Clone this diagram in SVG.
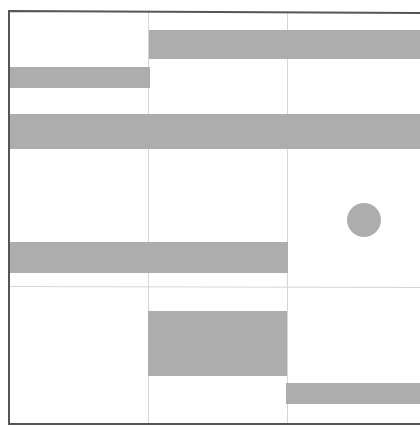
<svg xmlns="http://www.w3.org/2000/svg" width="420" height="427" viewBox="0 0 420 427">
<style>
.grid{stroke:#d6d6d6;stroke-width:1;fill:none}
.frame{stroke:#555;stroke-width:2;fill:none}
.bar{fill:#adadad}
</style>
<rect width="420" height="427" fill="#fff"/>
<g id="grid">
<line class="grid" x1="148.5" y1="12" x2="148.5" y2="424"/>
<line class="grid" x1="287.5" y1="12" x2="287.5" y2="424"/>
<line class="grid" x1="9" y1="286.5" x2="420" y2="287.5"/>
</g>
<g id="frame">
<polyline class="frame" points="420,13 9,11 9,424 420,424"/>
</g>
<g id="bar1"><rect class="bar" x="149" y="30" width="271" height="29"/></g>
<g id="bar2"><rect class="bar" x="10" y="67" width="140" height="21"/></g>
<g id="bar3"><rect class="bar" x="10" y="114" width="410" height="35"/></g>
<g id="dot"><circle class="bar" cx="364" cy="220" r="17"/></g>
<g id="bar4"><rect class="bar" x="10" y="242" width="278" height="31"/></g>
<g id="block"><rect class="bar" x="148" y="311" width="139" height="65"/></g>
<g id="bar5"><rect class="bar" x="286" y="383" width="134" height="21"/></g>
</svg>
